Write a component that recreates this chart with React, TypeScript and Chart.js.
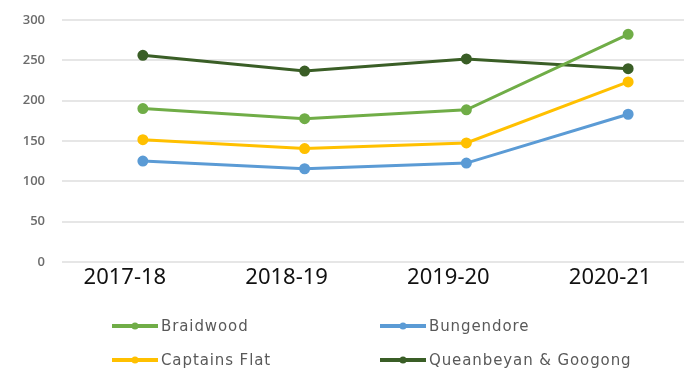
import React, { useEffect, useRef } from "react";
import { Chart, registerables } from "chart.js";

Chart.register(...registerables);

const categories = ["2017-18", "2018-19", "2019-20", "2020-21"];
const braidwood = [190, 177.5, 188.5, 282];
const bungendore = [125, 115.5, 122.5, 183];
const captainsFlat = [151.5, 140.5, 147.5, 223];
const queanbeyan = [256, 236.5, 251.5, 239.5];
const seriesNames = ["Braidwood", "Bungendore", "Captains Flat", "Queanbeyan & Googong"];
const seriesColors = ["#70ad47", "#5b9bd5", "#ffc000", "#3a5e26"];
const yTicks = [0, 50, 100, 150, 200, 250, 300];

const SHIFT = 5;

const legendPlugin = {
  id: "gridLegend",
  afterDraw(chart: any) {
    const ctx = chart.ctx;
    const colX = [112, 380];
    const rowY = [326 + SHIFT, 360 + SHIFT];
    ctx.save();
    chart.data.datasets.forEach((ds: any, i: number) => {
      const x = colX[i % 2];
      const y = rowY[Math.floor(i / 2)];
      ctx.strokeStyle = ds.borderColor;
      ctx.lineWidth = 4;
      ctx.beginPath();
      ctx.moveTo(x, y);
      ctx.lineTo(x + 46, y);
      ctx.stroke();
      ctx.fillStyle = ds.borderColor;
      ctx.beginPath();
      ctx.arc(x + 23, y, 3.5, 0, Math.PI * 2);
      ctx.fill();
      ctx.fillStyle = "#595959";
      ctx.font = "15px 'DejaVu Sans'";
      ctx.textBaseline = "middle";
      ctx.textAlign = "left";
      try { (ctx as any).letterSpacing = "0.9px"; } catch (e) {}
      ctx.fillText(ds.label, x + 49, y + 1);
    });
    ctx.restore();
  },
};

export default function App() {
  const ref = useRef<HTMLCanvasElement>(null);
  useEffect(() => {
    const seriesData = [braidwood, bungendore, captainsFlat, queanbeyan];
    const chart = new Chart(ref.current!, {
      type: "line",
      data: {
        labels: categories,
        datasets: seriesData.map((d, i) => ({
          label: seriesNames[i],
          data: d,
          borderColor: seriesColors[i],
          backgroundColor: seriesColors[i],
          borderWidth: 3,
          pointRadius: 4,
          pointHoverRadius: 4,
          tension: 0,
        })),
      },
      options: {
        animation: false,
        responsive: false,
        maintainAspectRatio: false,
        layout: { padding: { top: 0, bottom: 77, left: 0, right: 0 } },
        plugins: { legend: { display: false }, tooltip: { enabled: false }, title: { display: false } },
        scales: {
          x: {
            offset: true,
            grid: { display: false, drawTicks: false },
            border: { display: false },
            ticks: {
              color: "#111",
              font: { family: "'Noto Sans'", size: 22 },
              padding: 3,
              labelOffset: -18,
              maxRotation: 0,
            },
            afterFit(s: any) { s.height = 30; },
          },
          y: {
            min: 0,
            max: 300,
            afterBuildTicks(s: any) { s.ticks = yTicks.map((v) => ({ value: v })); },
            grid: { color: "#e6e6e6", lineWidth: 2, drawTicks: false },
            border: { display: false },
            ticks: {
              color: "#6b6b6b",
              font: { family: "'Open Sans'", size: 13, weight: "600" },
              padding: 17,
            },
            afterFit(s: any) { s.width = 62; },
          },
        },
      },
      plugins: [legendPlugin],
    });
    return () => chart.destroy();
  }, []);
  return (
    <div style={{ position: "fixed", left: 0, top: 0, width: 684, height: 369, overflow: "hidden", background: "#fff" }}>
      <canvas ref={ref} width={716} height={369 + SHIFT} style={{ display: "block", marginTop: -SHIFT }} />
    </div>
  );
}
